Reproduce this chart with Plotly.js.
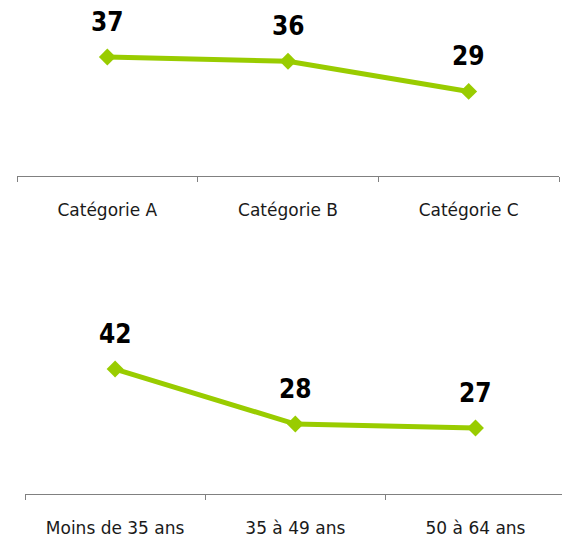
<!DOCTYPE html>
<html>
<head>
<meta charset="utf-8">
<script src="https://cdn.plot.ly/plotly-3.0.1.min.js"></script>
<style>html,body{margin:0;padding:0;background:#fff;}#chart{width:562px;height:541px;}</style>
</head>
<body>
<div id="chart"></div>
<script>
var categoriesTop = ["Catégorie A", "Catégorie B", "Catégorie C"];
var valuesTop = [37, 36, 29];
var categoriesBottom = ["Moins de 35 ans", "35 à 49 ans", "50 à 64 ans"];
var valuesBottom = [42, 28, 27];

var green = "#99cc00";
var numFont = {family: "DejaVu Sans Condensed", size: 26, color: "#000000", weight: "bold"};

function lineTrace(x, y, xa, ya) {
  return {
    type: "scatter", mode: "lines+markers",
    x: x, y: y, xaxis: xa, yaxis: ya,
    line: {color: green, width: 5},
    marker: {symbol: "diamond", size: 13, color: green},
    cliponaxis: false, hoverinfo: "skip"
  };
}
function labels(x, y, xa, ya) {
  return x.map(function (c, i) {
    return {x: c, y: y[i], xref: xa, yref: ya, text: String(y[i]), showarrow: false,
            font: numFont, yshift: 35, xanchor: "center", yanchor: "middle"};
  });
}

var xcommon = {
  type: "category", tickson: "boundaries", ticks: "outside", ticklen: 5,
  tickcolor: "#808080", showline: true, linecolor: "#808080", linewidth: 1,
  showgrid: false, zeroline: false, ticklabelstandoff: 19,
  tickfont: {family: "DejaVu Sans", size: 17, color: "#1a1a1a"}, fixedrange: true
};
var ycommon = {visible: false, showgrid: false, zeroline: false, fixedrange: true};

var layout = {
  width: 562, height: 541,
  margin: {l: 0, r: 0, t: 0, b: 0},
  paper_bgcolor: "#ffffff", plot_bgcolor: "#ffffff",
  showlegend: false,
  xaxis: Object.assign({}, xcommon, {domain: [17/562, 559/562], range: [-0.5, 2.5], anchor: "y"}),
  yaxis: Object.assign({}, ycommon, {domain: [(541-176)/541, 1], range: [9.33, 50.26], anchor: "x"}),
  xaxis2: Object.assign({}, xcommon, {domain: [25/562, 1], range: [-0.5, 2.48], anchor: "y2"}),
  yaxis2: Object.assign({}, ycommon, {domain: [(541-494)/541, 241/541], range: [10.2, 59.56], anchor: "x2"}),
  annotations: labels(categoriesTop, valuesTop, "x", "y").concat(labels(categoriesBottom, valuesBottom, "x2", "y2"))
};

Plotly.newPlot("chart", [
  lineTrace(categoriesTop, valuesTop, "x", "y"),
  lineTrace(categoriesBottom, valuesBottom, "x2", "y2")
], layout, {displayModeBar: false, staticPlot: true});
</script>
</body>
</html>
